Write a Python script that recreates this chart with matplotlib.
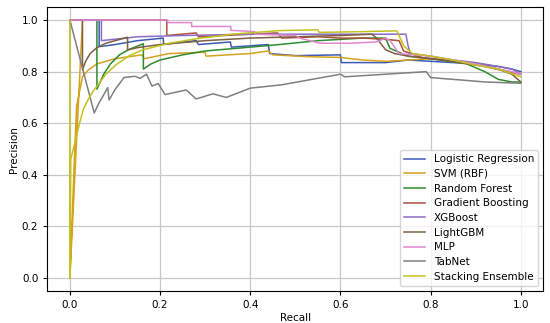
import matplotlib
matplotlib.use("Agg")
import matplotlib.pyplot as plt

# recall / precision pairs, one pair of lists per model
lr_recall = [0, 0.065, 0.065, 0.08, 0.10, 0.15, 0.207, 0.208, 0.25, 0.28, 0.285, 0.356, 0.358, 0.40,
             0.44, 0.443, 0.50, 0.60, 0.602, 0.70, 0.75, 0.80, 0.85, 0.90, 0.95, 0.98, 1.0]
lr_precision = [1, 1, 0.897, 0.90, 0.905, 0.92, 0.93, 0.905, 0.915, 0.92, 0.905, 0.915, 0.895, 0.90,
                0.905, 0.87, 0.862, 0.865, 0.835, 0.835, 0.845, 0.84, 0.835, 0.83, 0.82, 0.81, 0.80]

svm_recall = [0, 0.028, 0, 0.01, 0.015, 0.028, 0.04, 0.06, 0.10, 0.16, 0.165, 0.22, 0.30, 0.302, 0.40,
              0.44, 0.45, 0.53, 0.60, 0.65, 0.70, 0.75, 0.80, 0.84, 0.90, 0.95, 1.0]
svm_precision = [1, 1, 0, 0.46, 0.667, 0.78, 0.805, 0.83, 0.85, 0.865, 0.85, 0.87, 0.875, 0.86, 0.87,
                 0.88, 0.865, 0.858, 0.855, 0.845, 0.84, 0.845, 0.85, 0.845, 0.83, 0.81, 0.79]

rf_recall = [0, 0.06, 0.06, 0.075, 0.09, 0.11, 0.13, 0.163, 0.163, 0.18, 0.20, 0.25, 0.30, 0.40, 0.465,
             0.55, 0.65, 0.70, 0.71, 0.75, 0.80, 0.88, 0.92, 0.95, 0.98, 1.0]
rf_precision = [1, 1, 0.732, 0.79, 0.83, 0.865, 0.885, 0.908, 0.81, 0.83, 0.845, 0.865, 0.88, 0.895,
                0.905, 0.92, 0.93, 0.93, 0.89, 0.86, 0.85, 0.83, 0.80, 0.77, 0.76, 0.76]

gb_recall = [0, 0.215, 0.215, 0.28, 0.285, 0.40, 0.46, 0.47, 0.55, 0.60, 0.65, 0.70, 0.73, 0.74, 0.78,
             0.85, 0.92, 0.97, 1.0]
gb_precision = [1, 1, 0.94, 0.95, 0.935, 0.945, 0.95, 0.93, 0.935, 0.93, 0.93, 0.925, 0.92, 0.88, 0.855,
                0.84, 0.82, 0.80, 0.79]

xgb_recall = [0, 0.07, 0.07, 0.15, 0.25, 0.40, 0.55, 0.70, 0.745, 0.75, 0.755, 0.80, 0.85, 0.90, 0.95,
              0.98, 1.0]
xgb_precision = [1, 1, 0.92, 0.935, 0.94, 0.945, 0.945, 0.945, 0.945, 0.90, 0.87, 0.86, 0.845, 0.835,
                 0.82, 0.81, 0.79]

lgbm_recall = [0, 0.028, 0.028, 0.035, 0.045, 0.06, 0.08, 0.10, 0.128, 0.128, 0.15, 0.20, 0.30, 0.40,
               0.50, 0.60, 0.67, 0.68, 0.70, 0.72, 0.75, 0.80, 0.90, 0.95, 0.98, 1.0]
lgbm_precision = [1, 1, 0.807, 0.84, 0.87, 0.893, 0.91, 0.92, 0.933, 0.884, 0.893, 0.905, 0.92, 0.93,
                  0.935, 0.94, 0.945, 0.93, 0.885, 0.87, 0.86, 0.85, 0.83, 0.81, 0.79, 0.76]

mlp_recall = [0, 0.217, 0.217, 0.27, 0.27, 0.357, 0.357, 0.41, 0.41, 0.50, 0.51, 0.554, 0.62, 0.68,
              0.70, 0.71, 0.73, 0.80, 0.85, 0.90, 0.95, 0.98, 1.0]
mlp_precision = [1, 1, 0.99, 0.99, 0.975, 0.975, 0.96, 0.955, 0.945, 0.94, 0.93, 0.91, 0.91, 0.915,
                 0.93, 0.92, 0.87, 0.86, 0.845, 0.83, 0.81, 0.80, 0.79]

tabnet_recall = [0, 0.054, 0.065, 0.075, 0.084, 0.087, 0.10, 0.12, 0.144, 0.156, 0.17, 0.182, 0.196,
                 0.211, 0.258, 0.28, 0.317, 0.347, 0.40, 0.47, 0.60, 0.61, 0.70, 0.79, 0.80, 0.85,
                 0.92, 1.0]
tabnet_precision = [1, 0.64, 0.68, 0.71, 0.738, 0.69, 0.73, 0.777, 0.782, 0.774, 0.79, 0.744, 0.754,
                    0.711, 0.729, 0.694, 0.714, 0.70, 0.736, 0.749, 0.79, 0.78, 0.79, 0.80, 0.777,
                    0.77, 0.76, 0.755]

stack_recall = [0, 0, 0.002, 0.022, 0.03, 0.04, 0.05, 0.065, 0.08, 0.102, 0.13, 0.161, 0.22, 0.287,
                0.36, 0.465, 0.55, 0.553, 0.65, 0.725, 0.73, 0.74, 0.76, 0.80, 0.85, 0.90, 0.95, 1.0]
stack_precision = [1, 0, 0.46, 0.603, 0.655, 0.69, 0.72, 0.755, 0.79, 0.826, 0.86, 0.884, 0.91,
                   0.929, 0.945, 0.959, 0.962, 0.952, 0.955, 0.958, 0.94, 0.90, 0.87, 0.86, 0.845,
                   0.825, 0.81, 0.78]

models = [
    ("Logistic Regression", lr_recall, lr_precision, "#3b5bb5"),
    ("SVM (RBF)", svm_recall, svm_precision, "#d6a21e"),
    ("Random Forest", rf_recall, rf_precision, "#2e8b2e"),
    ("Gradient Boosting", gb_recall, gb_precision, "#b0503a"),
    ("XGBoost", xgb_recall, xgb_precision, "#8a6cc8"),
    ("LightGBM", lgbm_recall, lgbm_precision, "#7d6040"),
    ("MLP", mlp_recall, mlp_precision, "#e088d0"),
    ("TabNet", tabnet_recall, tabnet_precision, "#808080"),
    ("Stacking Ensemble", stack_recall, stack_precision, "#c2c21e"),
]

fig = plt.figure(figsize=(5.5, 3.23), dpi=100)
ax = fig.add_axes([0.086, 0.099, 0.902, 0.879])

for name, rec, prec, color in models:
    ax.plot(rec, prec, color=color, lw=1.1, label=name)

ax.set_xlim(-0.05, 1.05)
ax.set_ylim(-0.05, 1.05)
ax.set_xticks([0.0, 0.2, 0.4, 0.6, 0.8, 1.0])
ax.set_yticks([0.0, 0.2, 0.4, 0.6, 0.8, 1.0])
ax.grid(True, color="#c8c8c8", lw=0.9)
ax.set_axisbelow(True)
ax.tick_params(labelsize=7.5, length=3)
ax.set_xlabel("Recall", fontsize=7.5, labelpad=2)
ax.set_ylabel("Precision", fontsize=7.5, labelpad=2)
ax.legend(loc="lower right", fontsize=7.5, handlelength=2.0, labelspacing=0.45,
          borderpad=0.4, framealpha=0.8)

fig.savefig("out.png", dpi=100)
